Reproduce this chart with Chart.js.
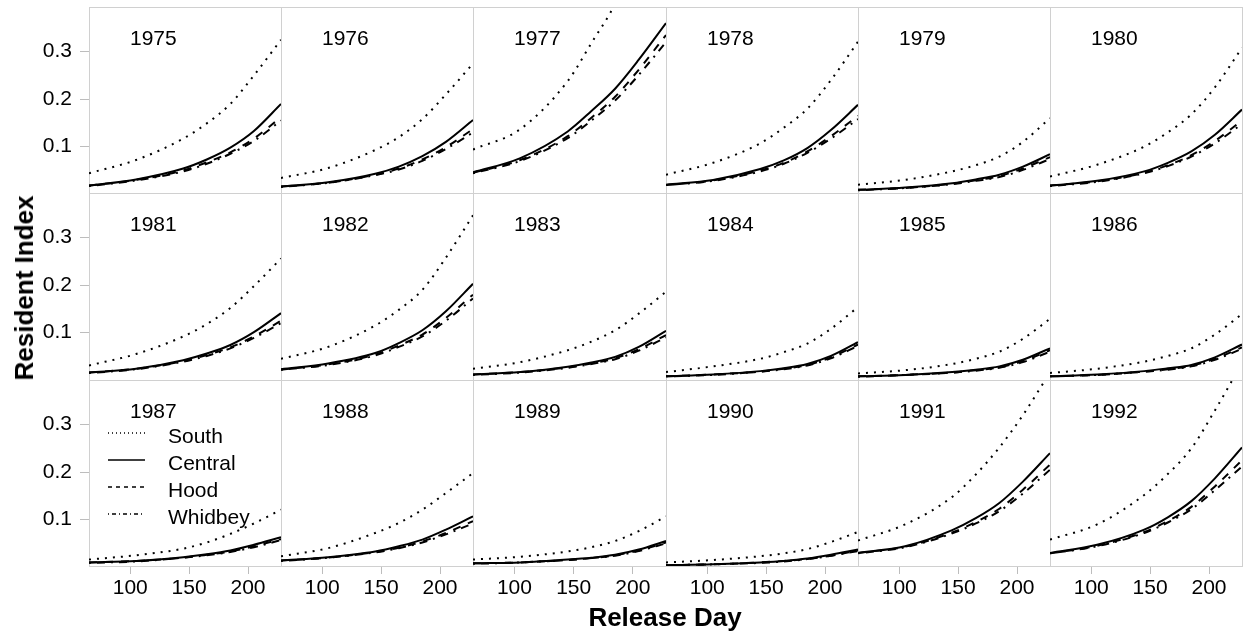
<!DOCTYPE html>
<html><head><meta charset="utf-8">
<script src="https://cdn.jsdelivr.net/npm/chart.js@4"></script>
<style>
html,body{margin:0;padding:0;background:#fff;}
#wrap{position:relative;width:1248px;height:635px;overflow:hidden;font-family:"Liberation Sans",Arial,sans-serif;color:#000;}
#wrap canvas{position:absolute;}
.yr{position:absolute;font-size:21px;line-height:21px;white-space:nowrap;}
.ttl{position:absolute;font-size:26px;line-height:26px;font-weight:bold;white-space:nowrap;}
.lg{position:absolute;font-size:21px;line-height:21px;white-space:nowrap;}
.lgsvg{position:absolute;}
</style></head><body><div id="wrap"></div>
<script>
const years = [1975,1976,1977,1978,1979,1980,1981,1982,1983,1984,1985,1986,1987,1988,1989,1990,1991,1992];
const releaseDays = [65,105,145,165,185,205,228];
const seriesNames = ['South','Central','Hood','Whidbey'];
const southValues = [
 [0.044,0.072,0.117,0.149,0.190,0.250,0.325],
 [0.034,0.055,0.093,0.120,0.158,0.210,0.275],
 [0.094,0.137,0.238,0.318,0.400,0.510,0.660],
 [0.041,0.066,0.107,0.140,0.180,0.240,0.321],
 [0.020,0.030,0.048,0.061,0.079,0.110,0.160],
 [0.037,0.062,0.100,0.130,0.168,0.225,0.308],
 [0.031,0.055,0.092,0.118,0.152,0.198,0.256],
 [0.045,0.070,0.115,0.148,0.190,0.258,0.347],
 [0.024,0.038,0.063,0.081,0.105,0.140,0.186],
 [0.017,0.029,0.045,0.059,0.077,0.108,0.154],
 [0.014,0.021,0.034,0.045,0.060,0.087,0.129],
 [0.015,0.024,0.039,0.051,0.067,0.096,0.139],
 [0.016,0.025,0.039,0.052,0.070,0.092,0.121],
 [0.023,0.040,0.072,0.093,0.121,0.156,0.198],
 [0.016,0.022,0.033,0.042,0.055,0.076,0.107],
 [0.010,0.015,0.023,0.029,0.038,0.053,0.074],
 [0.056,0.090,0.148,0.195,0.252,0.320,0.410],
 [0.058,0.090,0.152,0.196,0.250,0.330,0.430]
];
const centralValues = [
 [0.018,0.031,0.054,0.073,0.098,0.133,0.190],
 [0.016,0.025,0.043,0.058,0.080,0.110,0.156],
 [0.046,0.076,0.132,0.175,0.222,0.283,0.360],
 [0.020,0.030,0.053,0.071,0.097,0.135,0.188],
 [0.009,0.014,0.023,0.031,0.041,0.058,0.084],
 [0.018,0.028,0.048,0.066,0.090,0.125,0.178],
 [0.016,0.024,0.042,0.056,0.074,0.101,0.141],
 [0.023,0.035,0.057,0.078,0.105,0.145,0.203],
 [0.012,0.017,0.028,0.037,0.049,0.070,0.104],
 [0.008,0.012,0.019,0.025,0.034,0.051,0.080],
 [0.008,0.011,0.017,0.022,0.029,0.043,0.067],
 [0.008,0.012,0.019,0.025,0.032,0.048,0.075],
 [0.010,0.013,0.021,0.027,0.035,0.047,0.063],
 [0.014,0.021,0.033,0.044,0.058,0.079,0.107],
 [0.008,0.010,0.016,0.020,0.026,0.037,0.055],
 [0.004,0.006,0.010,0.013,0.018,0.026,0.037],
 [0.030,0.044,0.078,0.103,0.135,0.180,0.240],
 [0.030,0.047,0.079,0.105,0.139,0.187,0.252]
];
const hoodValues = [
 [0.018,0.030,0.050,0.067,0.088,0.117,0.162],
 [0.016,0.024,0.041,0.054,0.073,0.099,0.137],
 [0.045,0.072,0.122,0.161,0.205,0.262,0.335],
 [0.019,0.029,0.050,0.066,0.090,0.122,0.165],
 [0.009,0.013,0.022,0.029,0.038,0.054,0.078],
 [0.018,0.027,0.045,0.061,0.082,0.112,0.155],
 [0.016,0.024,0.040,0.053,0.069,0.092,0.125],
 [0.022,0.033,0.054,0.073,0.096,0.131,0.180],
 [0.012,0.017,0.027,0.035,0.046,0.065,0.095],
 [0.008,0.012,0.018,0.024,0.032,0.048,0.075],
 [0.008,0.011,0.016,0.021,0.027,0.040,0.063],
 [0.008,0.011,0.018,0.023,0.030,0.045,0.069],
 [0.010,0.013,0.020,0.026,0.033,0.044,0.059],
 [0.014,0.020,0.032,0.041,0.054,0.072,0.097],
 [0.008,0.010,0.015,0.019,0.025,0.035,0.052],
 [0.004,0.006,0.010,0.013,0.017,0.024,0.035],
 [0.030,0.043,0.073,0.095,0.123,0.163,0.216],
 [0.029,0.045,0.074,0.097,0.127,0.170,0.225]
];
const whidbeyValues = [
 [0.017,0.029,0.048,0.064,0.085,0.112,0.155],
 [0.015,0.024,0.040,0.052,0.070,0.095,0.130],
 [0.044,0.070,0.118,0.155,0.197,0.251,0.320],
 [0.019,0.028,0.048,0.064,0.087,0.117,0.158],
 [0.008,0.013,0.021,0.028,0.036,0.051,0.074],
 [0.017,0.026,0.044,0.059,0.079,0.107,0.148],
 [0.015,0.023,0.039,0.051,0.067,0.089,0.120],
 [0.022,0.032,0.052,0.070,0.092,0.125,0.172],
 [0.011,0.016,0.026,0.034,0.044,0.062,0.090],
 [0.008,0.011,0.018,0.023,0.031,0.046,0.072],
 [0.007,0.011,0.016,0.020,0.026,0.038,0.060],
 [0.008,0.011,0.018,0.022,0.029,0.043,0.066],
 [0.009,0.012,0.020,0.025,0.032,0.042,0.057],
 [0.013,0.020,0.031,0.040,0.052,0.069,0.092],
 [0.007,0.010,0.015,0.019,0.024,0.034,0.050],
 [0.004,0.006,0.009,0.012,0.017,0.024,0.034],
 [0.029,0.042,0.071,0.092,0.118,0.155,0.205],
 [0.029,0.044,0.072,0.094,0.122,0.162,0.212]
];
const yTickValues = [0.1,0.2,0.3];
const yTickLabels = ['0.1','0.2','0.3'];
const xTickValues = [100,150,200];
const xTickLabels = ['100','150','200'];
const xTitle = 'Release Day';
const yTitle = 'Resident Index';

// ---------- layout / style ----------
const colEdges = [89,281,473,666,858,1050,1242];
const rowEdges = [7,193,380,566];
const X_MIN = 65, X_MAX = 228;
const Y_MAX = 0.394, PX_PER_UNIT = 475;
const dashes = [[2,6],[],[8,8],[2,6,8,6]];
const FONT = 'Liberation Sans, Arial, sans-serif';
const wrap = document.getElementById('wrap');

const panelBorder = {
  id:'panelBorder',
  beforeDatasetsDraw(chart){
    const {ctx, chartArea:a} = chart;
    ctx.save();
    ctx.strokeStyle = '#d0d0d0';
    ctx.lineWidth = 1;
    ctx.strokeRect(a.left+0.5, a.top+0.5, a.right-a.left, a.bottom-a.top);
    ctx.restore();
  }
};

for (let i=0;i<years.length;i++){
  const r = Math.floor(i/6), c = i%6;
  const yAxisW = c===0 ? colEdges[0] : 0;
  const xAxisH = r===2 ? 44 : 0;
  const areaW = colEdges[c+1]-colEdges[c];
  const areaH = rowEdges[r+1]-rowEdges[r];
  const left = colEdges[c]-yAxisW, top = rowEdges[r];
  const cw = yAxisW+areaW+1, ch = areaH+xAxisH+1;
  const cv = document.createElement('canvas');
  cv.width = cw; cv.height = ch;
  cv.style.left = left+'px'; cv.style.top = top+'px';
  cv.style.width = cw+'px'; cv.style.height = ch+'px';
  wrap.appendChild(cv);
  const valueSets = [southValues[i], centralValues[i], hoodValues[i], whidbeyValues[i]];
  const datasets = valueSets.map((vals,s)=>({
    label: seriesNames[s],
    data: releaseDays.map((d,k)=>({x:d, y:vals[k]})),
    borderColor:'#000', borderWidth:2, borderDash:dashes[s], borderCapStyle:'butt',
    pointRadius:0, fill:false, cubicInterpolationMode:'monotone'
  }));
  new Chart(cv, {
    type:'line',
    data:{datasets},
    options:{
      responsive:false, animation:false, devicePixelRatio:1,
      layout:{padding:{left:0,top:0,right:1,bottom:1}},
      plugins:{legend:{display:false}, tooltip:{enabled:false}},
      scales:{
        x:{type:'linear', min:X_MIN, max:X_MAX, display:r===2, position:'bottom',
          afterFit(s){ s.height = xAxisH; s.paddingLeft = 0; s.paddingRight = 0; },
          afterBuildTicks(s){ s.ticks = xTickValues.map(v=>({value:v})); },
          ticks:{callback:(v,idx)=>xTickLabels[idx], color:'#000', font:{family:FONT,size:21}, padding:2, maxRotation:0, autoSkip:false},
          grid:{display:true, drawOnChartArea:false, drawTicks:true, tickLength:8, color:'#bdbdbd', lineWidth:1},
          border:{display:false}
        },
        y:{type:'linear', min:Y_MAX-areaH/PX_PER_UNIT, max:Y_MAX, display:c===0, position:'left',
          afterFit(s){ s.width = yAxisW; s.paddingTop = 0; s.paddingBottom = 0; },
          afterBuildTicks(s){ s.ticks = yTickValues.map(v=>({value:v})); },
          ticks:{callback:(v,idx)=>yTickLabels[idx], color:'#000', font:{family:FONT,size:21}, padding:8, autoSkip:false},
          grid:{display:true, drawOnChartArea:false, drawTicks:true, tickLength:9, color:'#bdbdbd', lineWidth:1},
          border:{display:false}
        }
      }
    },
    plugins:[panelBorder]
  });
  const yl = document.createElement('div');
  yl.className = 'yr';
  yl.textContent = String(years[i]);
  yl.style.left = (colEdges[c]+41)+'px';
  yl.style.top = (rowEdges[r]+19.5)+'px';
  wrap.appendChild(yl);
}

// axis titles
const xt = document.createElement('div');
xt.className='ttl'; xt.textContent = xTitle;
xt.style.left='665px'; xt.style.top='617px'; xt.style.transform='translate(-50%,-50%)';
wrap.appendChild(xt);
const yt = document.createElement('div');
yt.className='ttl'; yt.textContent = yTitle;
yt.style.left='24px'; yt.style.top='288px'; yt.style.transform='translate(-50%,-50%) rotate(-90deg)';
wrap.appendChild(yt);

// legend in first panel of bottom row
const legendLineY = [432.7,460,486.7,514];
const legendDash = ['1,3','','4,4','1,3,4,3'];
seriesNames.forEach((n,s)=>{
  const svg = document.createElementNS('http://www.w3.org/2000/svg','svg');
  svg.setAttribute('class','lgsvg');
  svg.setAttribute('width','40'); svg.setAttribute('height','6');
  svg.style.left='107px'; svg.style.top=(legendLineY[s]-3)+'px';
  const ln = document.createElementNS('http://www.w3.org/2000/svg','line');
  ln.setAttribute('x1','1'); ln.setAttribute('x2','38'); ln.setAttribute('y1','3'); ln.setAttribute('y2','3');
  ln.setAttribute('stroke','#000'); ln.setAttribute('stroke-width','1.3');
  if (legendDash[s]) ln.setAttribute('stroke-dasharray', legendDash[s]);
  svg.appendChild(ln);
  wrap.appendChild(svg);
  const t = document.createElement('div');
  t.className='lg'; t.textContent = n;
  t.style.left='168px'; t.style.top=(legendLineY[s]+2.3-10.3)+'px';
  wrap.appendChild(t);
});
</script>
</body></html>
